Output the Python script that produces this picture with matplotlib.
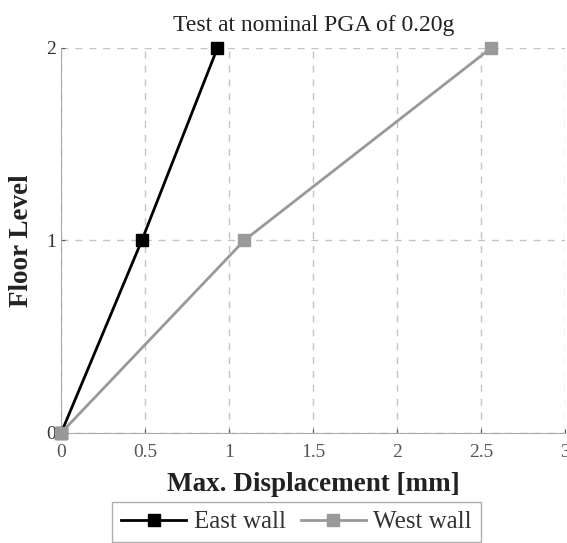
import matplotlib.pyplot as plt

plt.rcParams['font.family'] = ['Liberation Serif', 'DejaVu Serif']

levels = [0, 1, 2]
east_disp = [0, 0.48, 0.93]
west_disp = [0, 1.09, 2.56]
xticks = [0, 0.5, 1, 1.5, 2, 2.5, 3]
xtick_labels = ['0', '0.5', '1', '1.5', '2', '2.5', '3']

fig = plt.figure(figsize=(5.67, 5.43), dpi=100)
ax = fig.add_axes([0.108, 0.203, 0.889, 0.709])

ax.plot(east_disp, levels, color='black', lw=2, marker='s', ms=9,
        label='East wall', clip_on=False, zorder=4)
ax.plot(west_disp, levels, color='#999999', lw=2, marker='s', ms=9,
        label='West wall', clip_on=False, zorder=5)

ax.set_xlim(0, 3)
ax.set_ylim(0, 2)
ax.set_xticks(xticks)
ax.set_xticklabels(xtick_labels)
ax.set_yticks(levels)
ax.grid(True, ls=(0, (5, 5)), color='#c4c4c4', lw=1)
for s in ['top', 'right']:
    ax.spines[s].set_visible(False)
for s in ['left', 'bottom']:
    ax.spines[s].set_color('#aaaaaa')
ax.tick_params(colors='#555555', labelsize=14, length=3, direction='in')
ax.tick_params(axis='x', pad=8)
ax.tick_params(axis='y', labelcolor='#333333')

ax.set_title('Test at nominal PGA of 0.20g', fontsize=17, pad=12, color='#222222')
ax.set_xlabel('Max. Displacement [mm]', fontsize=19.5, fontweight='bold',
              labelpad=8, color='#222222')
ax.set_ylabel('Floor Level', fontsize=19.5, fontweight='bold', labelpad=9,
              color='#222222')

fig.legend(loc='upper center', bbox_to_anchor=(0.523, 0.0755), ncol=2, fontsize=18,
           frameon=True, fancybox=False, edgecolor='#999999', handlelength=2.6,
           columnspacing=0.6, handletextpad=0.3, borderpad=0.35, borderaxespad=0,
           labelcolor='#333333')

fig.savefig('out.png', dpi=100)
